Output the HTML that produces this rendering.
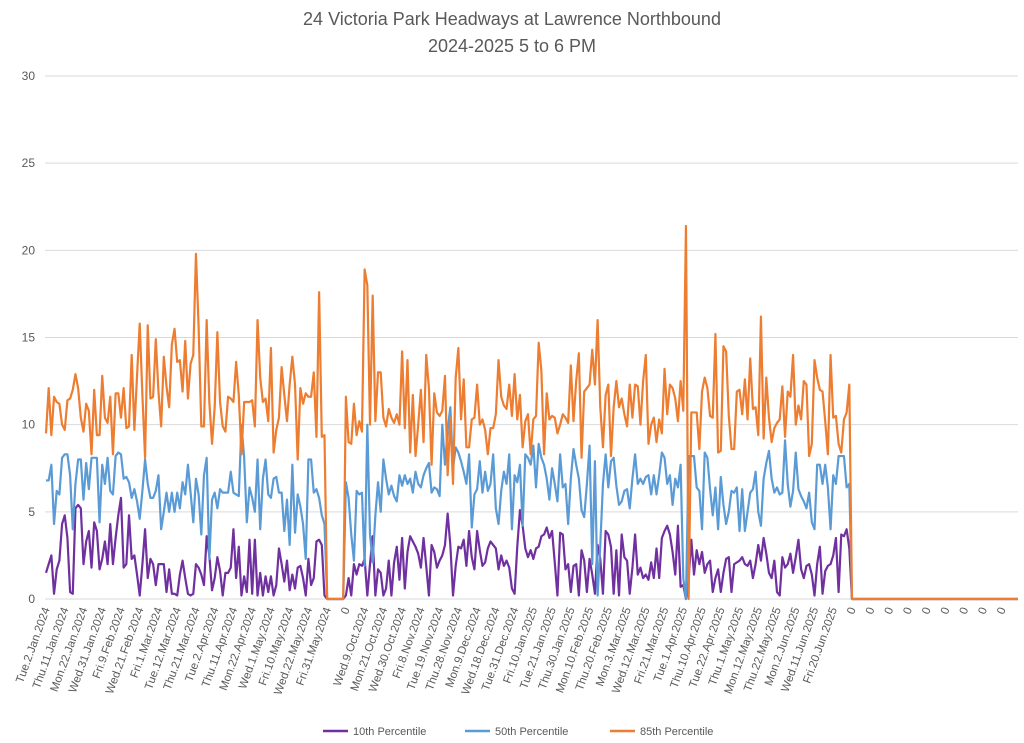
<!DOCTYPE html>
<html><head><meta charset="utf-8"><style>
body{margin:0;background:#fff;}
svg{display:block;font-family:"Liberation Sans",sans-serif;}
</style></head><body>
<svg id="chart" width="1024" height="743" viewBox="0 0 1024 743">
<text x="512" y="25" text-anchor="middle" font-size="18" fill="#595959">24 Victoria Park Headways at Lawrence Northbound</text>
<text x="512" y="52" text-anchor="middle" font-size="18" fill="#595959">2024-2025 5 to 6 PM</text>
<g id="grid"></g>
<g id="ylab"></g>
<g id="xlab"></g>
<g id="lines"></g>
<g>
<g><line x1="323" y1="731" x2="348" y2="731" stroke="#7030A0" stroke-width="2.5"/><text x="353" y="735" font-size="11" fill="#595959">10th Percentile</text></g>
<g><line x1="465" y1="731" x2="490" y2="731" stroke="#5B9BD5" stroke-width="2.5"/><text x="495" y="735" font-size="11" fill="#595959">50th Percentile</text></g>
<g><line x1="610" y1="731" x2="635" y2="731" stroke="#ED7D31" stroke-width="2.5"/><text x="640" y="735" font-size="11" fill="#595959">85th Percentile</text></g>
</g>
</svg>
<script>
const tickLabels = ["Tue.2.Jan.2024","Thu.11.Jan.2024","Mon.22.Jan.2024","Wed.31.Jan.2024","Fri.9.Feb.2024","Wed.21.Feb.2024","Fri.1.Mar.2024","Tue.12.Mar.2024","Thu.21.Mar.2024","Tue.2.Apr.2024","Thu.11.Apr.2024","Mon.22.Apr.2024","Wed.1.May.2024","Fri.10.May.2024","Wed.22.May.2024","Fri.31.May.2024","0","Wed.9.Oct.2024","Mon.21.Oct.2024","Wed.30.Oct.2024","Fri.8.Nov.2024","Tue.19.Nov.2024","Thu.28.Nov.2024","Mon.9.Dec.2024","Wed.18.Dec.2024","Tue.31.Dec.2024","Fri.10.Jan.2025","Tue.21.Jan.2025","Thu.30.Jan.2025","Mon.10.Feb.2025","Thu.20.Feb.2025","Mon.3.Mar.2025","Wed.12.Mar.2025","Fri.21.Mar.2025","Tue.1.Apr.2025","Thu.10.Apr.2025","Tue.22.Apr.2025","Thu.1.May.2025","Mon.12.May.2025","Thu.22.May.2025","Mon.2.Jun.2025","Wed.11.Jun.2025","Fri.20.Jun.2025","0","0","0","0","0","0","0","0","0"];
const tickEvery = 7;
const categoryCount = 364;
const yTicks = [0,5,10,15,20,25,30];
const p10 = [1.5,2.0,2.5,0.3,1.7,2.2,4.3,4.8,3.5,0.4,0.3,5.2,5.4,5.2,2.0,3.3,3.9,1.8,4.4,3.9,1.7,2.3,3.3,2.0,4.3,2.0,3.5,4.8,5.8,1.8,2.0,4.8,2.3,2.5,1.4,0.2,2.0,4.0,1.2,2.3,2.0,0.8,2.0,2.0,2.0,0.4,1.7,0.3,0.3,0.2,1.4,2.2,1.2,0.3,0.2,0.3,2.0,1.8,1.4,0.8,3.6,2.5,0.5,1.2,2.4,1.6,0.2,1.5,1.5,1.8,4.0,1.2,3.0,0.2,1.3,0.4,
3.4,0.3,3.4,0.2,1.5,0.2,1.3,0.4,1.3,0.2,0.8,2.9,2.0,1.0,2.2,0.5,1.4,0.6,1.8,1.9,1.2,0.2,2.3,0.8,1.2,3.3,3.4,3.1,0.2,0,0,0,0,0,0,0,
0.2,1.2,0.2,2.0,1.4,2.0,1.9,2.3,0.2,2.0,3.6,0.2,1.7,1.5,0.2,0.6,2.2,0.2,2.1,3.0,1.1,3.5,0.6,2.7,3.6,3.3,3.0,2.6,1.8,3.5,1.9,0.2,3.1,2.7,1.8,2.2,2.5,3.1,4.9,
3.1,0.2,1.9,3.0,2.9,3.4,1.9,3.9,2.4,1.7,3.9,2.8,1.9,2.1,2.9,3.3,3.1,2.9,1.7,2.5,1.9,2.2,1.8,0.6,0.3,3.0,5.1,4.2,2.9,2.4,2.8,2.3,2.9,3.0,3.6,3.7,4.1,3.5,3.9,2.1,0.2,3.8,3.7,1.7,2.0,0.4,1.9,2.0,0.2,2.8,2.2,0.4,2.3,1.4,0.3,3.1,2.3,0.3,3.9,3.7,3.0,0.3,2.8,0.2,3.7,2.4,2.2,0.3,1.8,3.7,1.4,1.8,1.2,1.4,1.1,2.1,
1.2,2.9,1.2,3.5,3.9,4.2,3.7,2.7,1.4,4.2,0.7,0.8,0,1.2,3.4,1.4,2.8,2.0,2.7,1.5,2.0,2.2,0.4,1.2,1.7,0.4,1.5,2.3,2.4,0.4,2.0,2.1,2.2,2.4,2.0,1.9,2.2,1.2,2.0,3.1,2.2,3.5,2.6,1.5,1.2,2.2,0.4,0.2,2.4,1.8,2.0,2.6,1.5,2.4,3.4,1.7,1.2,1.9,2.0,1.4,0.2,2.0,3.0,0.3,1.6,1.9,2.0,2.5,3.5,0.4,3.7,3.6,4.0,2.9];
const p50 = [6.8,6.8,7.7,4.3,6.2,6.0,8.1,8.3,8.3,7.1,4.0,6.6,8.0,8.0,5.7,7.8,6.3,8.1,8.1,8.1,4.4,7.7,6.6,8.1,6.2,6.0,8.2,8.4,8.3,6.9,7.0,6.7,5.8,6.3,5.6,4.6,6.2,8.0,6.6,5.8,5.8,6.2,7.1,4.0,5.0,6.1,5.0,6.1,5.0,6.1,5.2,6.7,6.0,7.7,6.1,4.4,6.9,6.0,3.7,7.1,8.1,2.3,5.7,6.1,5.2,6.3,6.1,6.1,6.1,7.3,6.1,6.0,5.9,10.0,8.1,4.4,
6.4,5.8,5.0,8.0,4.0,6.9,8.0,6.0,5.8,6.9,7.0,6.1,6.1,3.9,5.7,3.1,7.7,3.8,6.0,5.3,4.3,2.3,8.0,8.0,6.1,6.3,5.8,4.8,4.3,0,0,0,0,0,0,0,
6.7,5.8,3.7,2.2,6.2,6.0,6.1,1.9,10,3.7,2.1,4.8,6.7,5.0,8.0,6.9,6.0,6.5,5.9,5.6,7.1,6.5,7.1,6.6,6.9,6.1,7.3,6.6,6.4,7.1,7.5,7.8,6.1,6.4,6.3,5.9,10,7.7,9.7,
11.0,7.5,8.7,8.4,7.9,7.3,6.6,8.3,4.1,6.0,6.3,7.9,6.1,7.3,6.2,6.6,8.3,5.2,4.3,6.2,7.3,6.6,8.3,4.0,7.1,6.7,7.7,4.2,8.3,8.1,7.7,8.8,6.4,8.9,8.1,7.7,6.9,5.7,7.5,6.6,5.6,8.3,6.4,6.6,4.3,6.9,8.6,7.7,6.9,5.1,4.7,6.6,8.8,2.0,7.9,0.2,3.1,6.6,8.3,6.4,7.9,8.1,6.5,5.4,5.6,6.2,6.3,5.2,6.9,8.3,6.6,6.9,6.6,7.0,7.1,6.0,
7.1,6.0,7.1,8.4,8.1,6.6,7.1,5.4,6.9,6.4,7.7,1.2,0,8.2,8.2,8.2,6.4,6.2,4.0,8.4,8.1,6.3,4.8,6.4,4.0,7.0,5.4,4.3,5.0,6.2,6.1,6.4,3.9,6.3,3.9,5.0,6.1,6.3,7.3,5.0,4.2,6.9,7.8,8.5,6.9,6.1,6.4,6.0,6.1,9.1,6.6,5.3,6.2,8.4,6.3,5.9,5.6,5.2,6.1,4.4,4.0,7.7,7.7,6.6,7.7,6.4,4.0,7.1,6.6,8.2,8.2,8.2,6.4,6.6];
const p85 = [9.5,12.1,9.4,11.6,11.3,11.2,10,9.7,11.4,11.5,12,12.9,12.1,10.4,9.6,11.2,10.8,8.3,12,9.4,9.4,12.8,10.4,10.1,11.6,8.3,11.8,11.8,10.4,12.1,9.8,9.9,14,9.7,12.8,15.8,11.7,8.1,15.7,11.5,11.6,14.9,11.9,9.9,13.9,12.2,11,14.6,15.5,13.6,13.7,11.9,14.8,11.5,13.5,14,19.8,15.6,9.9,9.9,16,11.3,8.9,11,15.3,11.3,9.9,9.6,11.6,11.5,11.3,13.6,11.7,8.3,11.3,
11.3,11.3,11.4,9.9,16,12.7,11.3,11.5,10.2,14.4,8.4,9.7,10.4,13.3,11.7,10.2,12.3,13.9,12.3,8,12.1,11.2,11.8,11.6,11.6,13,9.3,17.6,9.3,9.4,0,0,0,0,0,0,0,
11.6,9,8.9,11.2,9.4,10.2,9.6,18.9,18,10,17.4,10.2,13,13,10.4,9.9,10.9,10.4,10.1,10.6,10,14.2,9.8,13.7,8.4,11.7,8.2,10,12,9,14,12.1,7.7,11.8,10.7,10.5,10.8,12.8,7.1,
10.4,6.6,12.7,14.4,10.3,12.6,8.7,8.7,10.3,10.4,12.3,10,10.3,9.7,8.3,9.8,9.8,10.6,13.7,11.6,11.1,10.9,12.3,10.5,12.9,10.3,11.7,8.7,10.2,10.6,8.3,10.3,10.5,14.7,13.1,8.3,11.8,10.3,10.5,10.4,9.5,10,10.6,10.4,10.1,13.4,10.2,12.5,14.1,8.1,11.9,12.1,12.3,14.3,12.3,16,11,8.7,11.7,12.3,8.2,11,12.5,11,11.5,10.6,9.9,12.3,10.4,12.3,12.2,10,12.5,14,8.9,10,10.4,
9,10.3,9.5,13.2,10.6,12.3,12.1,11.5,10.2,12.5,10.8,21.4,0,10.7,10.7,10.7,8.6,11.9,12.7,12.1,10.5,10.4,15.2,8.4,8.5,14.5,14.2,10.5,8.6,8.6,11.9,12,10.6,12.6,10.3,13.8,10.9,11,9.4,16.2,9.2,12.7,10.4,9,9.8,10.1,10.3,12.2,9.3,11.9,11.6,14,10,11.1,10.3,12.5,12.3,8.2,8.9,13.7,12.7,12,11.9,10.2,8.3,14,10.4,10.5,8.9,8.4,10.3,10.7,12.3];

const NS="http://www.w3.org/2000/svg";
const X0=46, X1=1018, Y0=599, Y30=76, GX0=45, GX1=1018;
function xs(i){return X0+(X1-X0)*i/(categoryCount-1);}
function ys(v){return Y0-(Y0-Y30)*v/30;}
const grid=document.getElementById('grid'), ylab=document.getElementById('ylab'), xlab=document.getElementById('xlab'), lines=document.getElementById('lines');
yTicks.forEach(t=>{
  const l=document.createElementNS(NS,'line');
  l.setAttribute('x1',GX0);l.setAttribute('x2',GX1);l.setAttribute('y1',ys(t));l.setAttribute('y2',ys(t));
  l.setAttribute('stroke','#d9d9d9');l.setAttribute('stroke-width','1');
  
  
  grid.appendChild(l);
  const tx=document.createElementNS(NS,'text');
  tx.setAttribute('x',35);tx.setAttribute('y',ys(t)+4);tx.setAttribute('text-anchor','end');
  tx.setAttribute('font-size','12');tx.setAttribute('fill','#595959');tx.textContent=t;
  
  
  ylab.appendChild(tx);
});
tickLabels.forEach((lab,k)=>{
  const x=xs(k*tickEvery);
  const tx=document.createElementNS(NS,'text');
  tx.setAttribute('transform','translate('+(x+4)+',609) rotate(-70)');
  tx.setAttribute('text-anchor','end');tx.setAttribute('font-size','11.5');tx.setAttribute('fill','#595959');
  tx.textContent=lab;
  
  
  xlab.appendChild(tx);
});
function draw(arr,color,name){
  const vals=arr.slice();
  while(vals.length<categoryCount) vals.push(0);
  const d=vals.slice(0,categoryCount).map((v,i)=>(i?'L':'M')+xs(i).toFixed(2)+','+ys(v).toFixed(2)).join('');
  const p=document.createElementNS(NS,'path');
  p.setAttribute('d',d);p.setAttribute('fill','none');p.setAttribute('stroke',color);
  p.setAttribute('stroke-width','2.2');p.setAttribute('stroke-linejoin','round');
  
  
  lines.appendChild(p);
}
draw(p10,'#7030A0','line-10th-percentile');
draw(p50,'#5B9BD5','line-50th-percentile');
draw(p85,'#ED7D31','line-85th-percentile');
</script>
</body></html>
